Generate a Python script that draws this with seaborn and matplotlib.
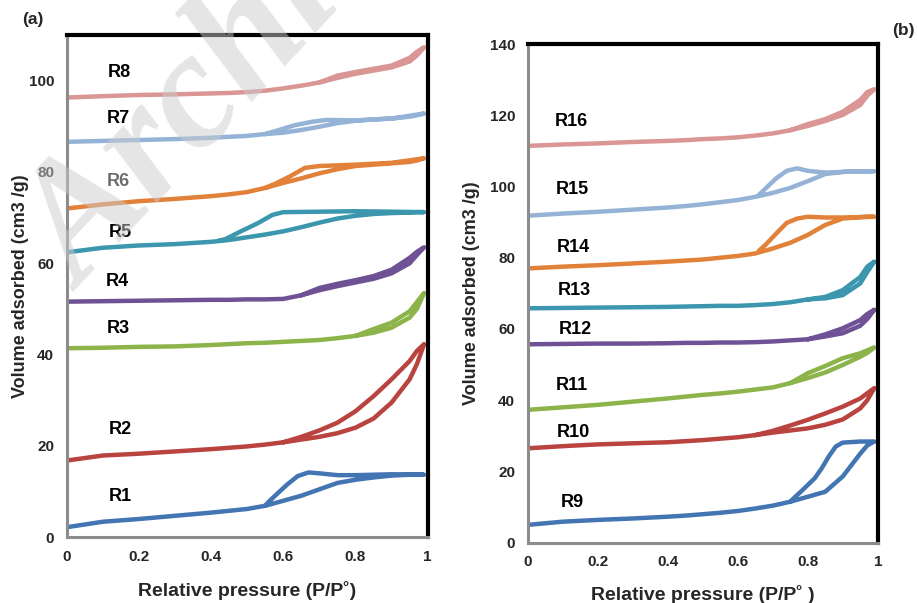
import matplotlib
matplotlib.use("Agg")
import matplotlib.pyplot as plt
import seaborn as sns
import pandas as pd

# adsorption branch: common relative-pressure grid (P/P0)
p_ads = [0.0, 0.1, 0.2, 0.3, 0.4, 0.45, 0.5, 0.55, 0.6, 0.65, 0.7, 0.75,
         0.8, 0.85, 0.9, 0.95, 0.97, 0.99]

# ---- panel (a) ----
names_a = ["R1", "R2", "R3", "R4", "R5", "R6", "R7", "R8"]
ads_a = {
    "R1": [2.2, 3.4, 4.0, 4.7, 5.4, 5.8, 6.2, 6.9, 8.0, 9.1, 10.5, 11.9, 12.6, 13.1, 13.5, 13.7, 13.7, 13.7],
    "R2": [16.8, 17.9, 18.3, 18.8, 19.3, 19.6, 19.9, 20.3, 20.8, 21.4, 22.0, 22.8, 24.0, 26.0, 29.5, 34.6, 37.9, 42.3],
    "R3": [41.4, 41.5, 41.7, 41.8, 42.1, 42.3, 42.5, 42.6, 42.8, 43.0, 43.2, 43.6, 44.1, 44.8, 45.9, 48.1, 50.0, 53.5],
    "R4": [51.6, 51.7, 51.8, 51.9, 52.0, 52.0, 52.1, 52.1, 52.2, 53.0, 54.1, 55.0, 55.8, 56.6, 57.8, 60.0, 61.8, 63.5],
    "R5": [62.4, 63.4, 63.9, 64.2, 64.7, 65.1, 65.7, 66.3, 67.0, 67.9, 68.9, 69.8, 70.4, 70.8, 71.0, 71.1, 71.2, 71.2],
    "R6": [72.0, 72.9, 73.6, 74.1, 74.7, 75.1, 75.6, 76.5, 77.6, 78.6, 79.7, 80.6, 81.3, 81.6, 81.9, 82.2, 82.5, 83.0],
    "R7": [86.6, 86.8, 87.0, 87.2, 87.5, 87.7, 87.9, 88.3, 88.6, 89.2, 89.9, 90.7, 91.2, 91.5, 91.7, 92.1, 92.4, 92.8],
    "R8": [96.3, 96.6, 96.85, 97.0, 97.2, 97.3, 97.5, 97.8, 98.3, 98.9, 99.6, 100.6, 101.5, 102.2, 102.9, 104.2, 105.5, 107.3],
}
des_p_a = {
    "R1": [0.99, 0.9, 0.8, 0.75, 0.7, 0.67, 0.64, 0.61, 0.58, 0.56, 0.55],
    "R2": [0.99, 0.97, 0.95, 0.9, 0.85, 0.8, 0.75, 0.7, 0.65, 0.6],
    "R3": [0.99, 0.97, 0.95, 0.9, 0.85, 0.8],
    "R4": [0.99, 0.97, 0.95, 0.9, 0.85, 0.8, 0.75, 0.7, 0.65],
    "R5": [0.99, 0.9, 0.8, 0.7, 0.6, 0.57, 0.53, 0.48, 0.44, 0.42],
    "R6": [0.99, 0.9, 0.8, 0.7, 0.66, 0.62, 0.58, 0.55],
    "R7": [0.99, 0.9, 0.8, 0.72, 0.68, 0.63, 0.58, 0.55],
    "R8": [0.99, 0.97, 0.95, 0.9, 0.85, 0.8, 0.75, 0.7],
}
des_v_a = {
    "R1": [13.7, 13.8, 13.6, 13.6, 14.0, 14.2, 13.4, 11.5, 9.3, 7.8, 6.9],
    "R2": [42.3, 40.8, 38.6, 34.6, 30.9, 27.6, 25.1, 23.4, 22.0, 20.8],
    "R3": [53.5, 51.5, 49.5, 47.0, 45.6, 44.1],
    "R4": [63.5, 62.5, 61.2, 58.6, 57.2, 56.3, 55.5, 54.6, 53.0],
    "R5": [71.2, 71.3, 71.4, 71.3, 71.2, 70.6, 68.8, 66.9, 65.3, 64.9],
    "R6": [83.0, 82.0, 81.6, 81.3, 80.9, 79.1, 77.5, 76.5],
    "R7": [92.8, 91.7, 91.3, 91.4, 91.0, 90.2, 89.0, 88.3],
    "R8": [107.3, 106.3, 105.0, 103.3, 102.6, 101.9, 101.1, 99.6],
}
lab_xy_a = {"R1": (0.148, 9.0), "R2": (0.148, 23.6), "R3": (0.142, 45.8), "R4": (0.14, 56.1),
            "R5": (0.148, 66.7), "R6": (0.142, 77.9), "R7": (0.142, 91.7), "R8": (0.147, 101.7)}

# ---- panel (b) ----
names_b = ["R9", "R10", "R11", "R12", "R13", "R14", "R15", "R16"]
ads_b = {
    "R9": [5.0, 5.9, 6.4, 6.8, 7.3, 7.6, 8.0, 8.4, 8.9, 9.6, 10.4, 11.5, 12.9, 14.3, 18.6, 25.0, 27.3, 28.4],
    "R10": [26.5, 27.1, 27.6, 27.9, 28.2, 28.5, 28.8, 29.2, 29.6, 30.2, 30.9, 31.5, 32.1, 33.1, 34.6, 37.7, 40.0, 43.4],
    "R11": [37.3, 38.0, 38.7, 39.6, 40.5, 41.0, 41.5, 41.9, 42.4, 43.0, 43.6, 44.8, 46.2, 47.8, 49.9, 52.2, 53.3, 54.8],
    "R12": [55.7, 55.8, 55.9, 55.9, 56.0, 56.1, 56.1, 56.2, 56.2, 56.3, 56.5, 56.8, 57.1, 57.9, 58.8, 60.9, 62.8, 65.4],
    "R13": [65.8, 65.9, 66.0, 66.1, 66.2, 66.3, 66.4, 66.5, 66.5, 66.7, 67.0, 67.5, 68.3, 68.6, 69.5, 72.8, 76.0, 78.9],
    "R14": [77.0, 77.5, 77.9, 78.4, 78.9, 79.2, 79.5, 80.0, 80.5, 81.2, 82.6, 84.2, 86.4, 89.2, 91.0, 91.4, 91.5, 91.5],
    "R15": [91.8, 92.4, 92.9, 93.5, 94.1, 94.5, 95.0, 95.6, 96.2, 97.1, 98.2, 99.6, 101.5, 103.5, 104.1, 104.3, 104.3, 104.3],
    "R16": [111.4, 111.8, 112.1, 112.5, 112.8, 113.0, 113.3, 113.5, 113.8, 114.3, 114.9, 115.8, 117.0, 118.4, 120.1, 122.9, 125.5, 127.3],
}
des_p_b = {
    "R9": [0.99, 0.95, 0.9, 0.88, 0.86, 0.84, 0.82, 0.8, 0.78, 0.76, 0.75],
    "R10": [0.99, 0.95, 0.9, 0.85, 0.8, 0.75, 0.7, 0.65],
    "R11": [0.99, 0.95, 0.9, 0.85, 0.8, 0.77, 0.75],
    "R12": [0.99, 0.97, 0.95, 0.9, 0.85, 0.8],
    "R13": [0.99, 0.97, 0.95, 0.9, 0.85, 0.8],
    "R14": [0.99, 0.9, 0.85, 0.8, 0.77, 0.74, 0.71, 0.68, 0.66],
    "R15": [0.99, 0.9, 0.85, 0.8, 0.77, 0.74, 0.71, 0.68, 0.66],
    "R16": [0.99, 0.97, 0.95, 0.9, 0.85, 0.8, 0.75],
}
des_v_b = {
    "R9": [28.4, 28.4, 28.1, 27.0, 24.2, 20.9, 18.1, 16.2, 14.3, 12.5, 11.5],
    "R10": [43.4, 40.5, 38.2, 36.3, 34.5, 32.9, 31.4, 30.2],
    "R11": [54.8, 53.2, 51.8, 49.6, 47.6, 45.9, 44.8],
    "R12": [65.4, 64.2, 62.5, 60.2, 58.5, 57.1],
    "R13": [78.9, 77.5, 74.6, 70.9, 69.0, 68.3],
    "R14": [91.5, 91.3, 91.3, 91.5, 91.0, 89.8, 86.8, 83.7, 81.9],
    "R15": [104.3, 104.1, 103.9, 104.4, 105.1, 104.4, 102.3, 99.5, 97.6],
    "R16": [127.3, 126.5, 124.3, 121.0, 118.9, 117.5, 115.8],
}
lab_xy_b = {"R9": (0.127, 11.3), "R10": (0.13, 31.0), "R11": (0.126, 44.0), "R12": (0.135, 59.9),
            "R13": (0.133, 70.8), "R14": (0.13, 83.0), "R15": (0.127, 99.1), "R16": (0.124, 118.3)}

# Excel-like series colours, repeating per panel
colors = ["#4375B3", "#B9433F", "#8DB44A", "#6F5295", "#3B96AE", "#E2823A", "#95B3D7", "#D99694"]

sns.set_style("white")
plt.rcParams["font.family"] = ["Liberation Sans", "DejaVu Sans"]

fig = plt.figure(figsize=(9.17, 6.03), dpi=100)
ax_a = fig.add_axes([0.0727, 0.1090, 0.3937, 0.8330])
ax_b = fig.add_axes([0.5755, 0.1000, 0.3817, 0.8270])


def draw_panel(ax, names, ads, des_p, des_v, lab_xy, ymax, xlabel, ylx, xly):
    for i, n in enumerate(names):
        # adsorption up, then desorption back down: one closed-ish path
        df = pd.DataFrame({"p": p_ads + des_p[n], "v": ads[n] + des_v[n]})
        sns.lineplot(data=df, x="p", y="v", sort=False, estimator=None, errorbar=None,
                     color=colors[i], lw=3.2, ax=ax,
                     solid_capstyle="round", solid_joinstyle="round")
        tx, ty = lab_xy[n]
        ax.text(tx, ty, n, ha="center", va="center", fontsize=13, fontweight="bold",
                color="#6e6e6e" if n == "R6" else "black")
    ax.set_xlim(0, 1)
    ax.set_ylim(0, ymax)
    ax.set_xticks([0, 0.2, 0.4, 0.6, 0.8, 1])
    ax.set_xticklabels(["0", "0.2", "0.4", "0.6", "0.8", "1"])
    ax.set_yticks(list(range(0, ymax + 1, 20)))
    ax.tick_params(axis="both", direction="out", length=5, width=1.5, color="#8c8c8c",
                   labelsize=11, pad=4)
    for lab in ax.get_xticklabels() + ax.get_yticklabels():
        lab.set_fontweight("bold")
    for side in ["top", "right"]:
        ax.spines[side].set_color("black")
        ax.spines[side].set_linewidth(3)
    for side in ["left", "bottom"]:
        ax.spines[side].set_color("#8c8c8c")
        ax.spines[side].set_linewidth(2.2)
    ax.set_xlabel(xlabel, fontsize=14, fontweight="bold")
    ax.set_ylabel("Volume adsorbed (cm3 /g)", fontsize=13, fontweight="bold")
    ax.xaxis.set_label_coords(0.5, xly)
    ax.yaxis.set_label_coords(ylx, 0.5)
    ax.set_facecolor("none")


draw_panel(ax_a, names_a, ads_a, des_p_a, des_v_a, lab_xy_a, 110,
           "Relative pressure (P/P\u02da)", -0.105, -0.087)
draw_panel(ax_b, names_b, ads_b, des_p_b, des_v_b, lab_xy_b, 140,
           "Relative pressure (P/P\u02da )", -0.135, -0.085)

fig.text(0.024, 0.967, "(a)", fontsize=12.5, fontweight="bold", ha="left", va="center")
fig.text(0.973, 0.950, "(b)", fontsize=12.5, fontweight="bold", ha="left", va="center")

# faint watermark across panel (a)
fig.text(0.09, 0.515, "Archive of SID", fontsize=120, family="Liberation Serif",
         fontweight="bold", style="italic", color="#cccccc", alpha=0.5,
         rotation=47, rotation_mode="anchor", ha="left", va="baseline", zorder=10)

fig.savefig("out.png", dpi=100)
